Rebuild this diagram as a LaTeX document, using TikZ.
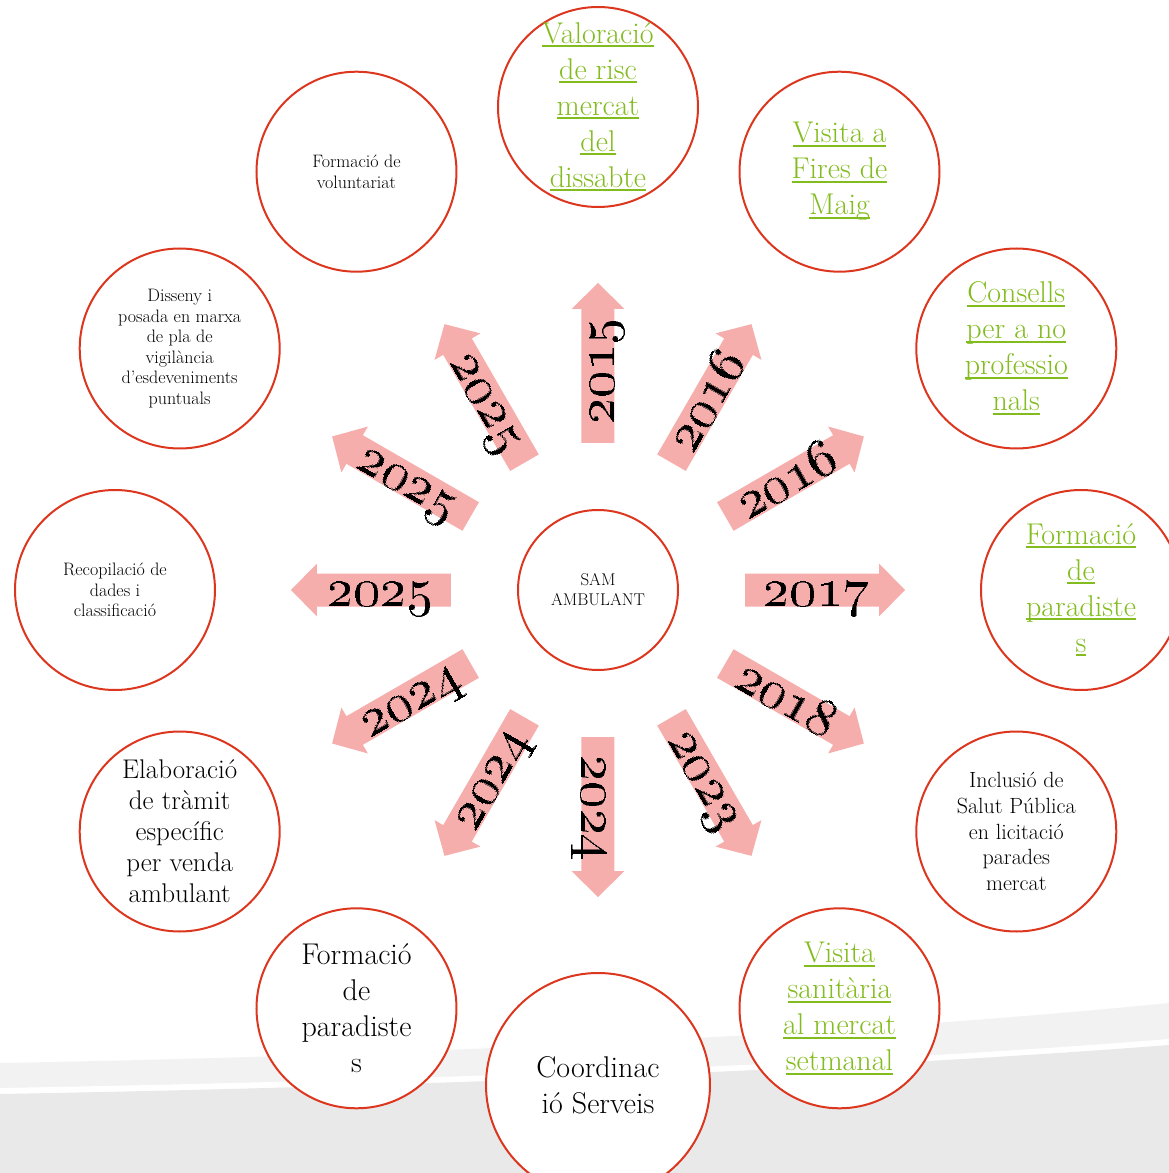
\documentclass[tikz,border=0pt]{standalone}
\usetikzlibrary{positioning}
\definecolor{ringred}{RGB}{220,55,30}
\definecolor{linkgreen}{RGB}{130,188,30}
\definecolor{arrowpink}{RGB}{246,174,172}
\definecolor{bandlight}{RGB}{242,242,242}
\definecolor{banddark}{RGB}{233,233,233}
\newcommand{\lnk}[1]{\setbox0=\hbox{#1}\rlap{\rule[-4pt]{\wd0}{2pt}}\box0}

\begin{document}
\begin{tikzpicture}[x=1pt,y=1pt,
    bubble/.style={circle,draw=ringred,line width=2pt,fill=white,
                   minimum size=200pt,inner sep=0pt,align=center},
    hub/.style={bubble,minimum size=160pt,font=\fontsize{17}{20}\selectfont},
    weblink/.style={text=linkgreen,font=\fontsize{30}{36}\selectfont},
    txtbig/.style={font=\fontsize{30}{36}\selectfont},
    txtmid/.style={font=\fontsize{27}{31}\selectfont},
    txtsmall/.style={font=\fontsize{22}{25.7}\selectfont},
    txttiny/.style={font=\fontsize{18}{20.5}\selectfont},
    year/.style={scale=5.4,inner sep=0pt,anchor=base}]
  \useasboundingbox (-598,-583) rectangle (571,590);

  \fill[bandlight] (-598,-473) .. controls (-200,-466) and (250,-445) .. (571,-413)
    -- (571,-583) -- (-598,-583) -- cycle;
  \fill[white] (-598,-498) .. controls (-200,-491) and (250,-475) .. (571,-449)
    -- (571,-583) -- (-598,-583) -- cycle;
  \fill[banddark] (-598,-504) .. controls (-200,-497) and (250,-480) .. (571,-455)
    -- (571,-583) -- (-598,-583) -- cycle;

  \node[hub] (sam) at (0,0) {SAM\\AMBULANT};

  \node[bubble,weblink,inner sep=-8pt] (act1) at (90:483)
    {\lnk{Valoració}\\\lnk{de risc}\\\lnk{mercat}\\\lnk{del}\\\lnk{dissabte}};
  \node[bubble,weblink] (act2)  at (60:483)  {\lnk{Visita a}\\\lnk{Fires de}\\\lnk{Maig}};
  \node[bubble,weblink] (act3)  at (30:483)  {\lnk{Consells}\\\lnk{per a no}\\\lnk{professio}\\\lnk{nals}};
  \node[bubble,weblink] (act4)  at (0:483)   {\lnk{Formació}\\\lnk{de}\\\lnk{paradiste}\\\lnk{s}};
  \node[bubble,txtsmall] (act5) at (-30:483) {Inclusió de\\Salut Pública\\en licitació\\parades\\mercat};
  \node[bubble,weblink] (act6)  at (-60:483) {\lnk{Visita}\\\lnk{sanitària}\\\lnk{al mercat}\\\lnk{setmanal}};
  \node[bubble,txtbig,minimum size=224pt] (act7) at (-90:495) {Coordinac\\ió Serveis};
  \node[bubble,txtbig]  (act8)  at (-120:483) {Formació\\de\\paradiste\\s};
  \node[bubble,txtmid]  (act9)  at (-150:483) {Elaboració\\de tràmit\\específic\\per venda\\ambulant};
  \node[bubble,txttiny] (act10) at (180:483)  {Recopilació de\\dades i\\classificació};
  \node[bubble,txttiny] (act11) at (150:483)  {Disseny i\\posada en marxa\\de pla de\\vigilància\\d’esdeveniments\\puntuals};
  \node[bubble,txttiny] (act12) at (120:483)  {Formació de\\voluntariat};

  \foreach \d/\t/\s/\yr [count=\i] in {90/90/-15/2015, 60/60/-15/2016, 30/30/-15/2016,
      0/0/-15/2017, -30/-30/-15/2018, -60/-60/-15/2023, -90/-90/-15/2024,
      -120/60/15/2024, -150/30/15/2024, 180/0/15/2025, 150/-30/15/2025, 120/-60/15/2025}{
    \begin{scope}[rotate=\d]
      \fill[arrowpink] (147,-16.5) -- (281,-16.5) -- (281,-26.5) -- (307,0)
        -- (281,26.5) -- (281,16.5) -- (147,16.5) -- cycle;
      \node[year,rotate=\t] (yr\i) at (218,\s) {\oldstylenums{\yr}};
    \end{scope}
  }
\end{tikzpicture}
\end{document}
